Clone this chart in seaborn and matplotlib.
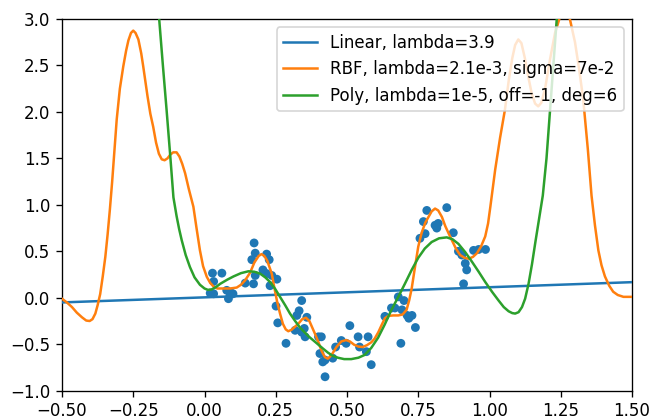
import numpy as np
import pandas as pd
import matplotlib
matplotlib.use("Agg")
import matplotlib.pyplot as plt
import seaborn as sns

# ---- data ----
data_x = [0.174, 0.178, 0.166, 0.218, 0.227, 0.028, 0.061, 0.032, 0.020, 0.032,
          0.078, 0.084, 0.100, 0.090, 0.143, 0.172, 0.178, 0.218, 0.236, 0.254,
          0.230, 0.251, 0.257, 0.286, 0.341, 0.332, 0.324, 0.318, 0.341, 0.353,
          0.359, 0.400, 0.410, 0.405, 0.423, 0.423, 0.415, 0.450, 0.460, 0.480,
          0.497, 0.510, 0.539, 0.544, 0.574, 0.568, 0.585, 0.633, 0.656, 0.668,
          0.680, 0.700, 0.693, 0.711, 0.717, 0.728, 0.740, 0.689, 0.756, 0.774,
          0.768, 0.780, 0.809, 0.815, 0.850, 0.873, 0.891, 0.903, 0.915, 0.920,
          0.909, 0.944, 0.962, 0.986, 0.820, 0.090, 0.205, 0.350]
data_y = [0.59, 0.48, 0.41, 0.47, 0.41, 0.265, 0.265, 0.175, 0.05, 0.043,
          0.08, -0.01, 0.043, 0.06, 0.158, 0.15, 0.24, 0.26, 0.24, 0.20,
          0.13, -0.09, -0.27, -0.49, -0.03, -0.14, -0.19, -0.35, -0.37, -0.42,
          -0.21, -0.42, -0.42, -0.60, -0.67, -0.85, -0.69, -0.65, -0.53, -0.46,
          -0.49, -0.30, -0.42, -0.53, -0.42, -0.58, -0.72, -0.20, -0.11, -0.11,
          0.01, -0.03, -0.13, -0.19, -0.22, -0.19, -0.32, -0.49, 0.64, 0.69,
          0.82, 0.94, 0.78, 0.75, 0.97, 0.70, 0.50, 0.46, 0.37, 0.30,
          0.15, 0.51, 0.52, 0.52, 0.80, 0.05, 0.30, -0.33]

lin_x = [-0.5, 1.5]
lin_y = [-0.05, 0.168]

rbf_x = [-0.5, -0.483, -0.465, -0.448, -0.43, -0.415, -0.403, -0.393, -0.383, -0.375,
         -0.366, -0.357, -0.348, -0.34, -0.332, -0.324, -0.316, -0.308, -0.297, -0.285,
         -0.275, -0.267, -0.258, -0.25, -0.242, -0.232, -0.222, -0.215, -0.20, -0.19,
         -0.18, -0.17, -0.16, -0.15, -0.14, -0.13, -0.12, -0.11, -0.098, -0.088,
         -0.078, -0.068, -0.055, -0.039, -0.028, -0.016, -0.005, 0.008, 0.02, 0.032,
         0.045, 0.06, 0.09, 0.113, 0.128, 0.143, 0.16, 0.175, 0.19, 0.20,
         0.21, 0.22, 0.228, 0.236, 0.245, 0.254, 0.265, 0.275, 0.285, 0.294,
         0.305, 0.318, 0.329, 0.343, 0.356, 0.368, 0.378, 0.388, 0.40, 0.412,
         0.423, 0.433, 0.445, 0.463, 0.48, 0.497, 0.51, 0.525, 0.54, 0.555,
         0.57, 0.585, 0.597, 0.61, 0.622, 0.633, 0.645, 0.662, 0.68, 0.695,
         0.709, 0.718, 0.727, 0.738, 0.75, 0.762, 0.775, 0.786, 0.797, 0.809,
         0.82, 0.833, 0.845, 0.857, 0.868, 0.882, 0.897, 0.912, 0.927, 0.942,
         0.956, 0.97, 0.985, 0.995, 1.003, 1.02, 1.037, 1.054, 1.068, 1.08,
         1.09, 1.101, 1.112, 1.124, 1.136, 1.148, 1.16, 1.171, 1.182, 1.195,
         1.212, 1.23, 1.247, 1.265, 1.282, 1.30, 1.315, 1.329, 1.345, 1.358,
         1.37, 1.382, 1.393, 1.405, 1.42, 1.434, 1.45, 1.47, 1.5]
rbf_y = [-0.01, -0.05, -0.10, -0.16, -0.21, -0.245, -0.25, -0.23, -0.17, -0.08,
         0.04, 0.23, 0.44, 0.68, 0.95, 1.25, 1.58, 1.92, 2.25, 2.49,
         2.66, 2.77, 2.85, 2.875, 2.85, 2.78, 2.63, 2.49, 2.17, 1.98,
         1.84, 1.67, 1.55, 1.49, 1.48, 1.50, 1.54, 1.565, 1.565, 1.52,
         1.44, 1.34, 1.17, 0.98, 0.75, 0.51, 0.34, 0.226, 0.16, 0.12,
         0.10, 0.10, 0.10, 0.11, 0.14, 0.19, 0.27, 0.38, 0.45, 0.47,
         0.45, 0.40, 0.33, 0.26, 0.11, -0.03, -0.17, -0.28, -0.34, -0.36,
         -0.345, -0.31, -0.28, -0.23, -0.215, -0.25, -0.32, -0.39, -0.48, -0.58,
         -0.64, -0.655, -0.62, -0.53, -0.47, -0.455, -0.47, -0.505, -0.525, -0.53,
         -0.51, -0.48, -0.44, -0.37, -0.29, -0.22, -0.195, -0.19, -0.19, -0.18,
         -0.13, -0.03, 0.10, 0.32, 0.55, 0.70, 0.81, 0.87, 0.93, 0.96,
         0.94, 0.87, 0.77, 0.69, 0.62, 0.53, 0.46, 0.43, 0.42, 0.44,
         0.48, 0.55, 0.66, 0.80, 0.98, 1.38, 1.72, 2.02, 2.35, 2.58,
         2.72, 2.78, 2.74, 2.58, 2.38, 2.20, 2.09, 2.06, 2.10, 2.25,
         2.56, 2.85, 3.02, 3.08, 3.0, 2.75, 2.45, 2.13, 1.6, 1.1,
         0.78, 0.51, 0.35, 0.23, 0.13, 0.065, 0.03, 0.01, 0.01]

poly_x = [-0.17, -0.159, -0.146, -0.133, -0.12, -0.109, -0.098, -0.089, -0.08, -0.066,
          -0.051, -0.035, -0.016, 0.0, 0.012, 0.025, 0.04, 0.055, 0.08, 0.102,
          0.128, 0.154, 0.175, 0.195, 0.213, 0.23, 0.248, 0.265, 0.283, 0.30,
          0.318, 0.335, 0.365, 0.394, 0.415, 0.433, 0.45, 0.468, 0.49, 0.515,
          0.54, 0.562, 0.585, 0.609, 0.632, 0.656, 0.68, 0.703, 0.727, 0.75,
          0.773, 0.797, 0.823, 0.85, 0.87, 0.891, 0.915, 0.938, 0.962, 0.985,
          1.01, 1.032, 1.05, 1.067, 1.08, 1.09, 1.102, 1.114, 1.125, 1.137,
          1.149, 1.161, 1.174, 1.187, 1.20, 1.212, 1.224, 1.236, 1.248]
poly_y = [3.45, 3.0, 2.5, 2.02, 1.52, 1.08, 0.88, 0.74, 0.62, 0.46,
          0.33, 0.22, 0.14, 0.10, 0.085, 0.09, 0.115, 0.15, 0.195, 0.23,
          0.265, 0.285, 0.28, 0.26, 0.22, 0.17, 0.095, 0.01, -0.08, -0.17,
          -0.25, -0.32, -0.415, -0.49, -0.545, -0.59, -0.625, -0.645, -0.66, -0.66,
          -0.645, -0.615, -0.54, -0.43, -0.29, -0.13, 0.01, 0.15, 0.30, 0.43,
          0.53, 0.60, 0.64, 0.65, 0.63, 0.58, 0.49, 0.39, 0.28, 0.17,
          0.06, -0.03, -0.10, -0.145, -0.165, -0.17, -0.155, -0.10, -0.01, 0.15,
          0.36, 0.60, 0.85, 1.10, 1.50, 2.0, 2.5, 3.0, 3.5]

labels = ["Linear, lambda=3.9",
          "RBF, lambda=2.1e-3, sigma=7e-2",
          "Poly, lambda=1e-5, off=-1, deg=6"]
colors = ["#1f77b4", "#ff7f0e", "#2ca02c"]

DPI = 120
fig = plt.figure(figsize=(650 / DPI, 419 / DPI), dpi=DPI)
ax = fig.add_axes([62/650, 1 - 390.7/419, 570/650, 371.7/419])

sns.scatterplot(x=data_x, y=data_y, ax=ax, color=colors[0], s=28,
                edgecolor="none", linewidth=0, legend=False, zorder=2)
sns.lineplot(x=lin_x, y=lin_y, ax=ax, color=colors[0], label=labels[0],
             linewidth=1.5, sort=False, zorder=3)
sns.lineplot(x=rbf_x, y=rbf_y, ax=ax, color=colors[1], label=labels[1],
             linewidth=1.5, sort=False, zorder=3)
sns.lineplot(x=poly_x, y=poly_y, ax=ax, color=colors[2], label=labels[2],
             linewidth=1.5, sort=False, zorder=3)

ax.set_xlim(-0.5, 1.5)
ax.set_ylim(-1.0, 3.0)
ax.set_xticks(np.arange(-0.5, 1.51, 0.25))
ax.set_yticks(np.arange(-1.0, 3.01, 0.5))
ax.legend(loc="upper right")

fig.savefig("out.png", dpi=DPI)
